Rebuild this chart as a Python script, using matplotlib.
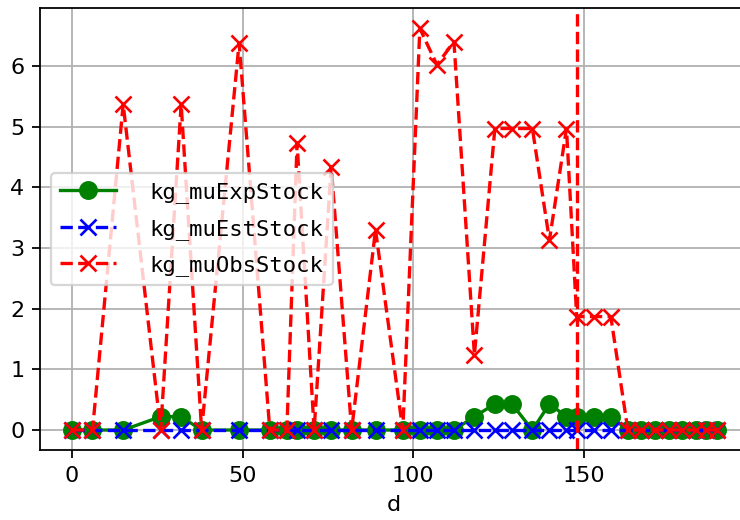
import matplotlib
matplotlib.use("Agg")
import matplotlib.pyplot as plt
from matplotlib.ticker import MultipleLocator

# Data
d = [0, 6, 15, 26, 32, 38, 49, 58, 63, 66, 71, 76, 82, 89, 97, 102, 107, 112,
     118, 124, 129, 135, 140, 145, 148, 153, 158,
     163, 167, 171, 175, 179, 183, 186, 189]

kg_muExpStock = [0, 0, 0, 0.22, 0.22, 0, 0, 0, 0, 0, 0, 0, 0, 0, 0, 0, 0, 0,
                 0.22, 0.43, 0.43, 0, 0.43, 0.22, 0.22, 0.22, 0.22,
                 0, 0, 0, 0, 0, 0, 0, 0]

kg_muEstStock = [0] * len(d)

kg_muObsStock = [0, 0, 5.37, 0, 5.37, 0, 6.38, 0, 0, 4.73, 0, 4.34, 0, 3.30, 0,
                 6.62, 6.02, 6.40, 1.24, 4.97, 4.97, 4.97, 3.13, 4.97,
                 1.87, 1.87, 1.87,
                 0, 0, 0, 0, 0, 0, 0, 0]

vline_d = 148

# Figure (default styling, drawn at a higher dpi)
fig = plt.figure(figsize=(4.625, 3.25), dpi=160)
ax = fig.add_axes([0.0538, 0.1344, 0.958, 0.8496])

ax.plot(d, kg_muExpStock, color="green", marker="o", linestyle="-",
        markersize=7.5, label="kg_muExpStock")
ax.plot(d, kg_muEstStock, color="blue", marker="x", linestyle="--",
        markersize=7.5, markeredgewidth=1.2, label="kg_muEstStock")
ax.plot(d, kg_muObsStock, color="red", marker="x", linestyle="--",
        markersize=7.5, markeredgewidth=1.2, label="kg_muObsStock")
ax.axvline(vline_d, color="red", linestyle="--")

ax.xaxis.set_major_locator(MultipleLocator(50))
ax.grid(True)
ax.set_xlabel("d")

ax.legend(loc="center left", prop={"family": "DejaVu Sans Mono", "size": 10},
          handlelength=2.55, handletextpad=1.5, labelspacing=0.7)

fig.savefig("out.png", dpi=160)
